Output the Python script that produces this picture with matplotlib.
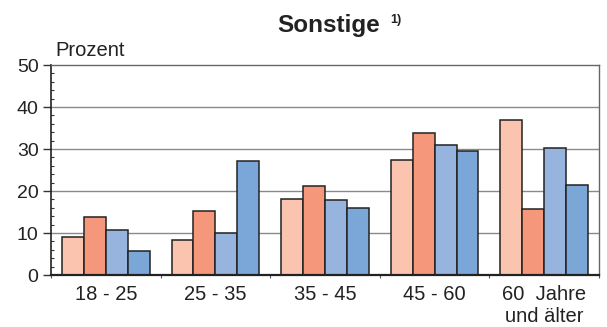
import matplotlib
matplotlib.use("Agg")
import matplotlib.pyplot as plt
import numpy as np
from matplotlib.ticker import MultipleLocator

plt.rcParams['font.family'] = ['Liberation Sans', 'DejaVu Sans']

categories = ["18 - 25", "25 - 35", "35 - 45", "45 - 60", "60  Jahre\nund älter"]
series1 = [9.0, 8.4, 18.2, 27.5, 36.9]
series2 = [13.8, 15.2, 21.3, 33.7, 15.8]
series3 = [10.7, 9.9, 17.9, 31.0, 30.3]
series4 = [5.6, 27.2, 16.0, 29.5, 21.5]
yticks = [0, 10, 20, 30, 40, 50]

colors = ["#FBC4AE", "#F4977A", "#96B4DD", "#7BA7D8"]

fig = plt.figure(figsize=(6.07, 3.27), dpi=100)
ax = fig.add_axes([51/607, 1-275/327, (599-51)/607, (275-65)/327])

x = np.arange(len(categories))
w = 0.2
for i, (s, c) in enumerate(zip([series1, series2, series3, series4], colors)):
    ax.bar(x + (i - 1.5) * w, s, w, color=c, edgecolor="#222222", linewidth=1.1, zorder=3)

ax.set_xlim(-0.5, len(categories) - 0.5)
ax.set_ylim(0, 50)
ax.set_yticks(yticks)
ax.set_yticklabels([str(t) for t in yticks], fontsize=14, color="#222222")
ax.yaxis.set_minor_locator(MultipleLocator(2))
ax.tick_params(axis='y', which='major', direction='out', length=6, width=1.0, color="#333333", pad=3)
ax.tick_params(axis='y', which='minor', direction='in', length=2, width=0.8, color="#333333")

ax.set_xticks(x)
ax.set_xticklabels(categories, fontsize=14.5, color="#222222", linespacing=1.2)
ax.tick_params(axis='x', which='major', length=0, pad=7)
ax.set_xticks(np.arange(len(categories) + 1) - 0.5, minor=True)
ax.tick_params(axis='x', which='minor', direction='out', length=2, width=0.8, color="#555555")

for t in [10, 20, 30, 40]:
    ax.axhline(t, color="#8a8a8a", linewidth=1.0, zorder=1)

for side in ['top', 'right']:
    ax.spines[side].set_color("#666666")
    ax.spines[side].set_linewidth(1.0)
ax.spines['left'].set_color("#222222")
ax.spines['left'].set_linewidth(1.2)
ax.spines['bottom'].set_color("#222222")
ax.spines['bottom'].set_linewidth(1.6)
ax.spines['bottom'].set_zorder(4)

fig.text(328.5/607, 1-32/327, "Sonstige", fontsize=17.5, fontweight='bold', ha='center', va='baseline', color="#222222")
fig.text(390/607, 1-20/327, "1)", fontsize=9, fontweight='bold', ha='left', va='center', color="#222222")
fig.text(55/607, 1-51/327, "Prozent", fontsize=14.5, ha='left', va='center', color="#222222")

fig.savefig("out.png", dpi=100)
